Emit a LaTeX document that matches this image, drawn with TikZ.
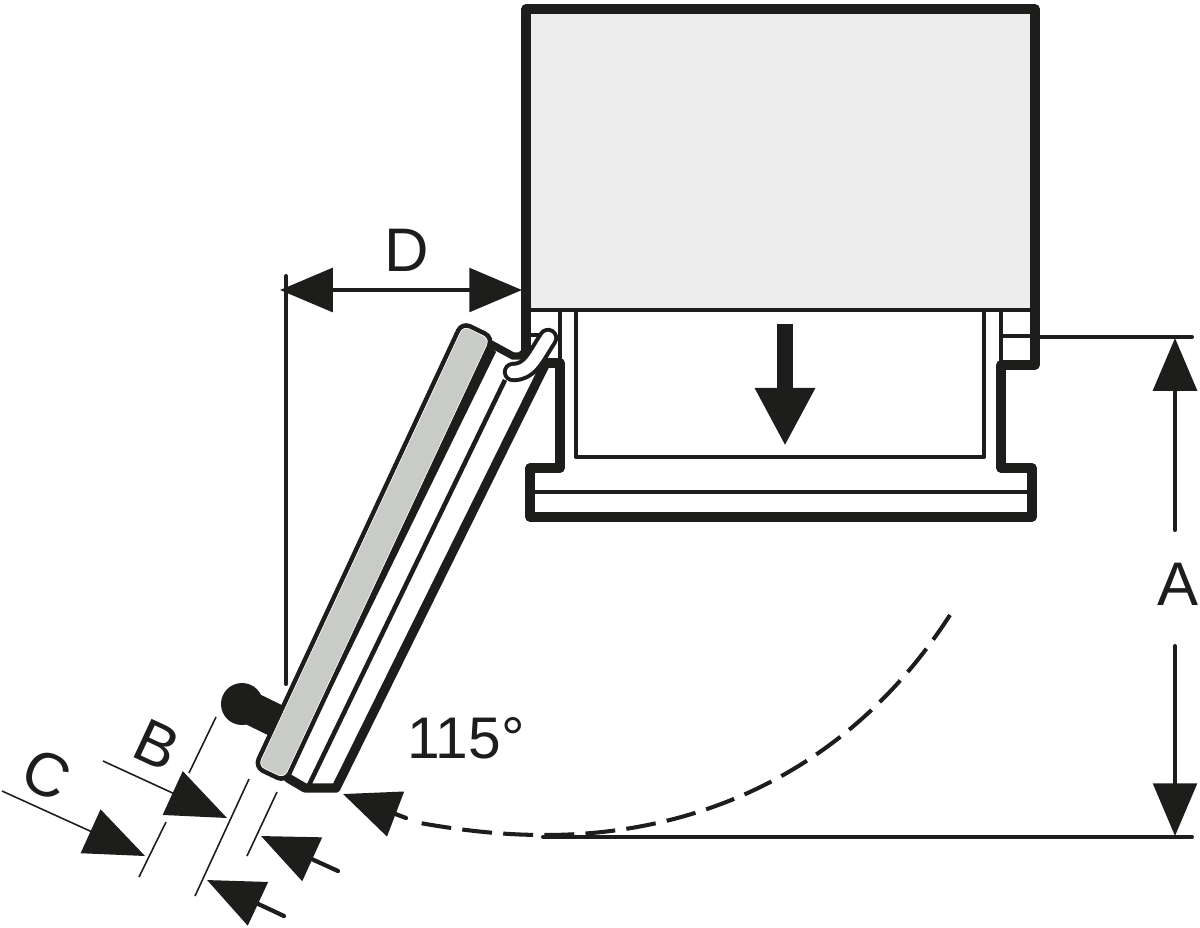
\documentclass[tikz,border=0pt]{standalone}
\usepackage{fontspec}
\setmainfont{Liberation Sans}
\usetikzlibrary{arrows.meta}
\definecolor{ink}{HTML}{1D1D1B}
\definecolor{bodygray}{HTML}{EDEDED}
\definecolor{doorgray}{HTML}{C9CBC9}

\begin{document}
\begin{tikzpicture}[x=0.01cm, y=-0.01cm, line join=round, line cap=round]

        % Define styles
        \tikzstyle{wall} = [draw=ink, line width=2.6pt]
        \tikzstyle{innerline} = [draw=ink, line width=1.2pt, line cap=butt]
        \tikzstyle{hairline} = [draw=ink, line width=0.45pt, line cap=butt]
        \tikzstyle{dimline} = [draw=ink, line width=1.15pt, >={Triangle[length=15pt,width=12.4pt]}]
        \tikzstyle{gauge} = [draw=ink, line width=0.45pt, line cap=butt, >={Triangle[length=17pt,width=13.6pt]}]
        \tikzstyle{pusharrow} = [draw=ink, line width=1.2pt, <-, >={Triangle[length=16pt,width=13.4pt]}]
        \tikzstyle{caption} = [text=ink, inner sep=0pt, font=\fontsize{17.5}{17.5}\selectfont]

        \useasboundingbox (0,0) rectangle (1200,927);

        % Cabinet
        \fill[bodygray] (526,9) rectangle (1035,310);
        \draw[wall] (526,354) -- (526,9) -- (1035,9) -- (1035,365) -- (1001,365) -- (1001,468)
            -- (1032,468) -- (1032,517) -- (530,517) -- (530,468) -- (560,468) -- (560,363) -- (545,363);

        % Inner lines of the cabinet and the drawer
        \draw[innerline] (530,310) -- (1031,310);
        \draw[innerline] (560,310) -- (560,363);
        \draw[innerline] (1001,310) -- (1001,365);
        \draw[innerline] (1001,336) -- (1035,336);
        \draw[innerline] (576,310) -- (576,457) -- (984,457) -- (984,310);
        \draw[innerline] (530,492) -- (1030,492);
        \draw[innerline] (530,335) -- (542,335);

        % Pull direction
        \draw[ink, line width=4.8pt, line cap=butt, -{Triangle[length=16.5pt,width=16pt]}] (785,324) -- (785,446);

        % Handle
        \fill[ink] (242,704) circle (21);
        \draw[ink, line width=9.4pt, line cap=butt] (242,704) -- (285,725);

        % Door
        \draw[ink, line width=2.6pt] (336,788) -- (545,365);
        \draw[ink, line width=1.3pt, line cap=butt] (309,785) -- (505,380);
        \draw[ink, line width=2.6pt] (288,778) -- (305,788) -- (336,788);
        \fill[ink] (490,345) -- (496,352) -- (289,775) -- (284,780) -- cycle;
        \draw[draw=ink, fill=doorgray, line width=1.3pt, rounded corners=2.5pt]
            (462,322.5) -- (493,337.5) -- (285.5,781.5) -- (255,767) -- cycle;
        \draw[white, line width=0.15pt, rounded corners=2pt]
            (463.2,326) -- (489.6,338.8) -- (284.3,778) -- (258.4,765.7) -- cycle;

        % Hinge
        \draw[ink, line width=2.1pt] (491,344) -- (513,356) -- (520,356) -- (526,351);
        \draw[ink, line width=5.8pt] (513,372) .. controls (530,372) and (535,358) .. (548,338);
        \draw[white, line width=3.5pt] (513,372) .. controls (530,372) and (535,358) .. (548,338);

        % Dimension D
        \node[caption] (labelD) at (407,250) {D};
        \coordinate (dLeft) at (280,290);
        \coordinate (dRight) at (522,290);
        \draw[dimline, <->] (dLeft) -- (dRight);
        \draw[dimline] (286,276) -- (286,684);

        % Dimension A
        \node[caption] (labelA) at (1178,584) {A};
        \coordinate (aTop) at (1175,338);
        \coordinate (aBottom) at (1175,836);
        \draw[dimline, ->] (1175,530) -- (aTop);
        \draw[dimline, ->] (1175,646) -- (aBottom);
        \draw[dimline] (1035,337) -- (1192,337);
        \draw[dimline] (543,837) -- (1192,837);

        % Opening angle
        \node[caption, font=\fontsize{16.7}{16.7}\selectfont] (labelAngle) at (466,738) {115°};
        \draw[dimline, dash pattern=on 8.5pt off 3.2pt, line cap=butt] (950,615) .. controls (850,770) and (700,835) .. (545,835)
            .. controls (500,835) and (460,830) .. (420,823);

        % Dimensions B and C
        \node[caption, rotate=-25] (labelB) at (157,745) {B};
        \node[caption, rotate=-25] (labelC) at (47,775) {C};
        \draw[hairline] (216,717) -- (189,773);
        \draw[hairline] (166,822) -- (139,877);
        \draw[hairline] (249,779) -- (195,896);
        \draw[hairline] (277,792) -- (247,856);
        \draw[gauge, ->] (103,761) -- (227,818);
        \draw[gauge, ->] (2,791) -- (145,856);

        % Arrows on the door side
        \draw[pusharrow] (343,794) -- (406,818);
        \draw[pusharrow] (261,836) -- (338,871);
        \draw[pusharrow] (207,880) -- (284,916);

    \end{tikzpicture}
\end{document}
